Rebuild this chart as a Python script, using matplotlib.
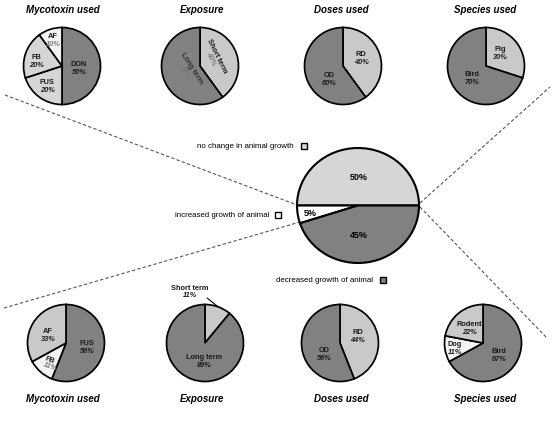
import matplotlib
matplotlib.use('Agg')
import numpy as np
import matplotlib.pyplot as plt

plt.rcParams['font.family'] = ['Liberation Sans', 'DejaVu Sans']

W, H = 554, 423

# ---------------- data ----------------
top_myco_labels = ['DON', 'FUS', 'FB', 'AF']
top_myco_values = [50, 20, 20, 10]
top_exp_labels = ['Short term', 'Long term']
top_exp_values = [40, 60]
top_dose_labels = ['RD', 'OD']
top_dose_values = [40, 60]
top_spec_labels = ['Pig', 'Bird']
top_spec_values = [30, 70]

center_labels = ['no change in animal growth', 'increased growth of animal',
                 'decreased growth of animal']
center_values = [50, 5, 45]

bot_myco_labels = ['FUS', 'FB', 'AF']
bot_myco_values = [56, 11, 33]
bot_exp_labels = ['Short term', 'Long term']
bot_exp_values = [11, 89]
bot_dose_labels = ['RD', 'OD']
bot_dose_values = [44, 56]
bot_spec_labels = ['Bird', 'Dog', 'Rodent']
bot_spec_values = [67, 11, 22]

titles = ['Mycotoxin used', 'Exposure', 'Doses used', 'Species used']

# ---------------- styles ----------------
DARK = '#818181'
LIGHT = '#d6d6d6'
MID = '#c9c9c9'
PALE = '#f3f3f3'
WHITE = '#ffffff'

fig = plt.figure(figsize=(W / 100, H / 100), dpi=100)
ax = fig.add_axes([0, 0, 1, 1])


def Y(y):
    return H - y


wp = dict(edgecolor='black', linewidth=1.25)


def small_pie(cx, cy, r, values, colors):
    ax.pie(values, colors=colors, startangle=90, counterclock=False,
           center=(cx, Y(cy)), radius=r, wedgeprops=wp, frame=True)


lab_kw = dict(fontsize=5.3, fontweight='bold', ha='center', va='center', color='#1a1a1a')
pct_kw = dict(fontsize=5.3, fontweight='bold', style='italic', ha='center', va='center',
              color='#1a1a1a')
pct_gray = dict(pct_kw, color='#7a7a7a')


def lab(x, y, name, val, gray=False, dy=8, rot=0):
    ax.text(x, Y(y), name, rotation=rot, **lab_kw)
    kw = pct_gray if gray else pct_kw
    ax.text(x, Y(y + dy), f'{val}%', rotation=rot, **kw)


R = 38.5
# top row
small_pie(62, 66, R, top_myco_values, [DARK, LIGHT, LIGHT, PALE])
lab(79, 64, top_myco_labels[0], top_myco_values[0])
lab(47, 82, top_myco_labels[1], top_myco_values[1])
lab(36, 57, top_myco_labels[2], top_myco_values[2])
lab(53, 36, top_myco_labels[3], top_myco_values[3], gray=True)

small_pie(200, 66, R, top_exp_values, [MID, DARK])
ax.text(217, Y(56), top_exp_labels[0], rotation=-64, **lab_kw)
ax.text(211, Y(59), f'{top_exp_values[0]}%', rotation=-64, **pct_gray)
ax.text(192, Y(68), top_exp_labels[1], rotation=-58, color='#333333',
        **{k: v for k, v in lab_kw.items() if k != 'color'})
ax.text(185, Y(72), f'{top_exp_values[1]}%', rotation=-58, **pct_gray)

small_pie(343, 66, R, top_dose_values, [MID, DARK])
lab(361, 54, top_dose_labels[0], top_dose_values[0])
lab(329, 75, top_dose_labels[1], top_dose_values[1])

small_pie(486, 66, R, top_spec_values, [MID, DARK])
lab(500, 49, top_spec_labels[0], top_spec_values[0])
lab(472, 74, top_spec_labels[1], top_spec_values[1])

# bottom row
small_pie(66, 343, R, bot_myco_values, [DARK, PALE, MID])
lab(87, 343, bot_myco_labels[0], bot_myco_values[0])
lab(50, 360, bot_myco_labels[1], bot_myco_values[1], gray=True, rot=-20, dy=7)
lab(48, 331, bot_myco_labels[2], bot_myco_values[2])

small_pie(205, 343, R, bot_exp_values, [MID, DARK])
# leader line for short term
mid = np.deg2rad(90 - bot_exp_values[0] / sum(bot_exp_values) * 360 / 2)
ax.annotate('', xy=(205 + R * np.cos(mid), Y(343) + R * np.sin(mid)),
            xytext=(207, Y(298)),
            arrowprops=dict(arrowstyle='-', color='black', lw=0.8, shrinkA=0, shrinkB=0))
lab(190, 288, bot_exp_labels[0], bot_exp_values[0], dy=7)
lab(204, 357, bot_exp_labels[1], bot_exp_values[1])

small_pie(340, 343, R, bot_dose_values, [MID, DARK])
lab(358, 332, bot_dose_labels[0], bot_dose_values[0])
lab(324, 350, bot_dose_labels[1], bot_dose_values[1])

small_pie(483, 343, R, bot_spec_values, [DARK, PALE, MID])
lab(499, 351, bot_spec_labels[0], bot_spec_values[0])
lab(455, 344, bot_spec_labels[1], bot_spec_values[1])
lab(469, 324, bot_spec_labels[2], bot_spec_values[2])

# titles
title_x = [63, 202, 341, 485]
for tx, t in zip(title_x, titles):
    ax.text(tx, Y(10), t, fontsize=7, fontweight='bold', style='italic',
            ha='center', va='center')
    ax.text(tx, Y(399), t, fontsize=7, fontweight='bold', style='italic',
            ha='center', va='center')

# dashed connector lines
connectors = [((5, 95), (297, 205)), ((4, 308), (300, 222)),
              ((420, 203), (550, 87)), ((420, 207), (547, 338))]
for (x0, y0), (x1, y1) in connectors:
    ax.plot([x0, x1], [Y(y0), Y(y1)], ls=(0, (3, 2)), color='#555555', lw=0.8)

# legend-like labels
center_colors = [LIGHT, WHITE, DARK]
leg_pos = [(294, 146, 304), (269, 215, 278), (373, 280, 383)]
for (tx, ty, mx), name, c in zip(leg_pos, center_labels, center_colors):
    ax.text(tx, Y(ty), name, fontsize=5.7, ha='right', va='center')
    ax.plot([mx], [Y(ty)], marker='s', ms=5, mfc=c, mec='black', mew=1.0)

ax.set_xlim(0, W)
ax.set_ylim(0, H)
ax.set_aspect('auto')
ax.axis('off')

# center elliptical pie
cx, cy, rx, ry = 358, 205.5, 61, 57.5
m = 1.04
ax2 = fig.add_axes([(cx - rx * m) / W, (H - cy - ry * m) / H, 2 * rx * m / W, 2 * ry * m / H])
ax2.pie(center_values, colors=center_colors, startangle=0, counterclock=True,
        radius=1, wedgeprops=dict(edgecolor='black', linewidth=1.5))
ax2.set_aspect('auto')
ax2.set_xlim(-m, m)
ax2.set_ylim(-m, m)
ax2.axis('off')

ck = dict(fontsize=6.5, fontweight='bold', ha='center', va='center',
          transform=ax.transData, zorder=10)
ax2.text(359, Y(177), f'{center_values[0]}%', **ck)
ax2.text(310, Y(213), f'{center_values[1]}%', **ck)
ax2.text(359, Y(235), f'{center_values[2]}%', **ck)

fig.savefig('out.png', dpi=100)
